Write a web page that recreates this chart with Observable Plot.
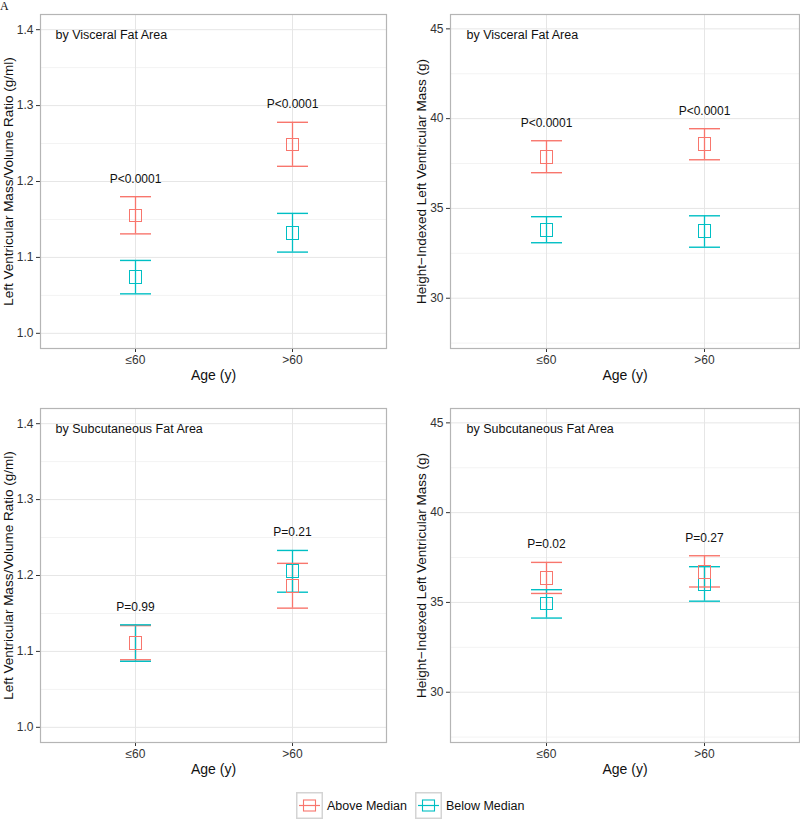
<!DOCTYPE html>
<html>
<head>
<meta charset="utf-8">
<script src="https://cdn.jsdelivr.net/npm/d3@7"></script>
<script src="https://cdn.jsdelivr.net/npm/@observablehq/plot@0.6"></script>
<style>
  html, body { margin: 0; padding: 0; background: #fff; }
  #root { position: relative; width: 800px; height: 820px; font-family: "Liberation Sans", Arial, sans-serif; }
  .cell { position: absolute; }
  #tag { position: absolute; left: 0px; top: -1px; z-index: 5; font-family: "Liberation Serif", "Times New Roman", serif; font-size: 12px; color: #111; }
  #legend { position: absolute; left: 296px; top: 792px; display: flex; align-items: center; font-size: 12.5px; color: #111; }
  #legend .item { display: flex; align-items: center; margin-right: 8px; }
  #legend svg { display: block; margin-right: 4px; }
</style>
</head>
<body>
<div id="root">
  <div class="cell" id="p1" style="left:0px;top:0px"></div>
  <div class="cell" id="p2" style="left:400px;top:0px"></div>
  <div class="cell" id="p3" style="left:0px;top:394px"></div>
  <div class="cell" id="p4" style="left:400px;top:394px"></div>
  <div id="legend"></div>
  <div id="tag">A</div>
</div>
<script>
// ---------------- data ----------------
const ages = ["≤60", ">60"];
const groups = ["Above Median", "Below Median"];
const colors = ["#F8766D", "#00BFC4"];

// order of values: [≤60 Above, ≤60 Below, >60 Above, >60 Below]
const vfaRatioMean = [1.155, 1.074, 1.249, 1.132];
const vfaRatioLo   = [1.131, 1.052, 1.220, 1.107];
const vfaRatioHi   = [1.180, 1.096, 1.278, 1.158];

const vfaMassMean = [37.88, 33.81, 38.59, 33.74];
const vfaMassLo   = [36.99, 33.09, 37.71, 32.84];
const vfaMassHi   = [38.77, 34.54, 39.44, 34.59];

const sfaRatioMean = [1.111, 1.111, 1.186, 1.206];
const sfaRatioLo   = [1.089, 1.087, 1.157, 1.178];
const sfaRatioHi   = [1.134, 1.135, 1.216, 1.233];

const sfaMassMean = [36.36, 34.93, 36.71, 36.00];
const sfaMassLo   = [35.50, 34.13, 35.86, 35.07];
const sfaMassHi   = [37.23, 35.71, 37.60, 36.99];

const vfaRatioP = ["P<0.0001", "P<0.0001"];
const vfaMassP  = ["P<0.0001", "P<0.0001"];
const sfaRatioP = ["P=0.99", "P=0.21"];
const sfaMassP  = ["P=0.02", "P=0.27"];

const ratioTicks = [1.0, 1.1, 1.2, 1.3, 1.4];
const ratioMinor = [1.05, 1.15, 1.25, 1.35];
const ratioDomain = [0.98, 1.42];
const massTicks = [30, 35, 40, 45];
const massMinor = [27.5, 32.5, 37.5, 42.5];
const massDomain = [27.2, 45.8];

const ratioLabel = "Left Ventricular Mass/Volume Ratio (g/ml)";
const massLabel = "Height\u2212Indexed Left Ventricular Mass (g)";
const xLabel = "Age (y)";
const vfaTitle = "by Visceral Fat Area";
const sfaTitle = "by Subcutaneous Fat Area";

// ---------------- helpers ----------------
function rows(mean, lo, hi) {
  const out = [];
  let k = 0;
  for (const age of ages) for (const group of groups) {
    out.push({age, group, mean: mean[k], lo: lo[k], hi: hi[k]});
    k++;
  }
  return out;
}
function pRows(data, labels) {
  return ages.map((age, i) => ({
    age,
    top: d3.max(data.filter(d => d.age === age), d => d.hi),
    label: labels[i]
  }));
}
const hline = {
  draw(context, size) {
    const w = Math.sqrt(size / Math.PI);
    context.moveTo(-w, 0);
    context.lineTo(w, 0);
  }
};

function panel({data, pvals, domain, ticks, minor, ylabel, title, left, fmt}) {
  const ml = left ? 40 : 50;
  const mr = left ? 14 : 1;
  const squares = data.slice().reverse();
  return Plot.plot({
    width: 400,
    height: 390,
    marginLeft: ml,
    marginRight: mr,
    marginTop: 14,
    marginBottom: 42,
    style: {fontFamily: "Liberation Sans, Arial, sans-serif", fontSize: "12px", color: "#333", background: "white", overflow: "visible"},
    x: {type: "point", domain: ages, padding: 0.6, tickSize: 4, tickPadding: 3, label: null},
    y: {domain, ticks, tickFormat: fmt, tickSize: 4, tickPadding: 3, label: null},
    color: {domain: groups, range: colors},
    marks: [
      Plot.ruleY(minor, {stroke: "#f3f3f3", strokeWidth: 1}),
      Plot.ruleY(ticks, {stroke: "#e6e6e6", strokeWidth: 1}),
      Plot.ruleX(ages, {x: d => d, stroke: "#e6e6e6", strokeWidth: 1}),
      Plot.frame({stroke: "#b5b5b5", strokeWidth: 1.2}),
      Plot.ruleX(data, {x: "age", y1: "lo", y2: "hi", stroke: "group", strokeWidth: 1.3}),
      Plot.dot(data, {x: "age", y: "lo", symbol: hline, r: 15.5, stroke: "group", strokeWidth: 1.4}),
      Plot.dot(data, {x: "age", y: "hi", symbol: hline, r: 15.5, stroke: "group", strokeWidth: 1.4}),
      Plot.dot(squares, {x: "age", y: "mean", symbol: "square", r: 7.1, stroke: "group", fill: "none", strokeWidth: 1, shapeRendering: "crispEdges"}),
      Plot.text(pvals, {x: "age", y: "top", text: "label", dy: -18, fill: "#111", fontSize: 12, lineAnchor: "middle"}),
      Plot.text([title], {frameAnchor: "top-left", dx: left ? 15 : 16, dy: 20, text: d => d, textAnchor: "start", lineAnchor: "middle", fill: "#111", fontSize: 12.5}),
      Plot.text([ylabel], {frameAnchor: "left", dx: left ? -32 : -29, text: d => d, rotate: -90, textAnchor: "middle", lineAnchor: "middle", fill: "#111", fontSize: 13.5}),
      Plot.text([xLabel], {frameAnchor: "bottom", dy: 27, text: d => d, textAnchor: "middle", lineAnchor: "middle", fill: "#111", fontSize: 14})
    ]
  });
}

const d1 = rows(vfaRatioMean, vfaRatioLo, vfaRatioHi);
const d2 = rows(vfaMassMean, vfaMassLo, vfaMassHi);
const d3r = rows(sfaRatioMean, sfaRatioLo, sfaRatioHi);
const d4 = rows(sfaMassMean, sfaMassLo, sfaMassHi);

const f1 = d3.format(".1f");
const f0 = d3.format("d");

document.getElementById("p1").append(panel({data: d1, pvals: pRows(d1, vfaRatioP), domain: ratioDomain, ticks: ratioTicks, minor: ratioMinor, ylabel: ratioLabel, title: vfaTitle, left: true, fmt: f1}));
document.getElementById("p2").append(panel({data: d2, pvals: pRows(d2, vfaMassP), domain: massDomain, ticks: massTicks, minor: massMinor, ylabel: massLabel, title: vfaTitle, left: false, fmt: f0}));
document.getElementById("p3").append(panel({data: d3r, pvals: pRows(d3r, sfaRatioP), domain: ratioDomain, ticks: ratioTicks, minor: ratioMinor, ylabel: ratioLabel, title: sfaTitle, left: true, fmt: f1}));
document.getElementById("p4").append(panel({data: d4, pvals: pRows(d4, sfaMassP), domain: massDomain, ticks: massTicks, minor: massMinor, ylabel: massLabel, title: sfaTitle, left: false, fmt: f0}));

// ---------------- legend ----------------
const legend = document.getElementById("legend");
groups.forEach((g, i) => {
  const item = document.createElement("div");
  item.className = "item";
  const ns = "http://www.w3.org/2000/svg";
  const svg = document.createElementNS(ns, "svg");
  svg.setAttribute("width", 27);
  svg.setAttribute("height", 27);
  svg.innerHTML =
    `<rect x="0.75" y="0.75" width="25.5" height="25.5" fill="#fff" stroke="#d4d4d4" stroke-width="1.5"/>` +
    `<rect x="7.5" y="8" width="12" height="11" fill="none" stroke="${colors[i]}" stroke-width="1.1"/>` +
    `<line x1="3" x2="24" y1="13.5" y2="13.5" stroke="${colors[i]}" stroke-width="1.2"/>`;
  item.append(svg);
  const span = document.createElement("span");
  span.textContent = g;
  item.append(span);
  legend.append(item);
});
</script>
</body>
</html>
